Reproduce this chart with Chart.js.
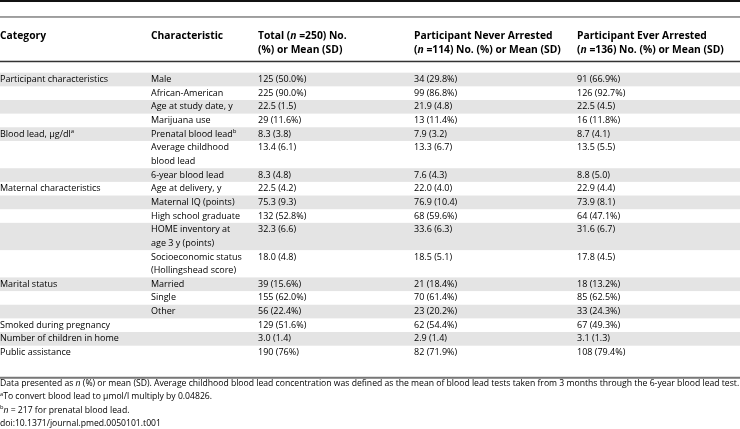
<!DOCTYPE html>
<html lang="en">
<head>
  <meta charset="UTF-8">
  <title>Table 1</title>
  <script src="https://cdn.jsdelivr.net/npm/chart.js"></script>
  <style>
    html, body { margin: 0; padding: 0; background: #fff; }
    #wrap { width: 740px; height: 429px; position: relative; }
  </style>
</head>
<body>
<div id="wrap"><canvas id="chart"></canvas></div>
<script>
// Table data: one entry per body row. "^x" = superscript, "_n_" = italic
const categories = ['Participant characteristics', '', '', '', 'Blood lead, \u00b5g/dl^a', '', '',
  'Maternal characteristics', '', '', '', '', 'Marital status', '', '',
  'Smoked during pregnancy', 'Number of children in home', 'Public assistance'];
const characteristics = ['Male', 'African-American', 'Age at study date, y', 'Marijuana use',
  'Prenatal blood lead^b', 'Average childhood\nblood lead', '6-year blood lead', 'Age at delivery, y',
  'Maternal IQ (points)', 'High school graduate', 'HOME inventory at\nage 3 y (points)',
  'Socioeconomic status\n(Hollingshead score)', 'Married', 'Single', 'Other', '', '', ''];
const totalValues = ['125 (50.0%)', '225 (90.0%)', '22.5 (1.5)', '29 (11.6%)', '8.3 (3.8)', '13.4 (6.1)',
  '8.3 (4.8)', '22.5 (4.2)', '75.3 (9.3)', '132 (52.8%)', '32.3 (6.6)', '18.0 (4.8)', '39 (15.6%)',
  '155 (62.0%)', '56 (22.4%)', '129 (51.6%)', '3.0 (1.4)', '190 (76%)'];
const neverValues = ['34 (29.8%)', '99 (86.8%)', '21.9 (4.8)', '13 (11.4%)', '7.9 (3.2)', '13.3 (6.7)',
  '7.6 (4.3)', '22.0 (4.0)', '76.9 (10.4)', '68 (59.6%)', '33.6 (6.3)', '18.5 (5.1)', '21 (18.4%)',
  '70 (61.4%)', '23 (20.2%)', '62 (54.4%)', '2.9 (1.4)', '82 (71.9%)'];
const everValues = ['91 (66.9%)', '126 (92.7%)', '22.5 (4.5)', '16 (11.8%)', '8.7 (4.1)', '13.5 (5.5)',
  '8.8 (5.0)', '22.9 (4.4)', '73.9 (8.1)', '64 (47.1%)', '31.6 (6.7)', '17.8 (4.5)', '18 (13.2%)',
  '85 (62.5%)', '33 (24.3%)', '67 (49.3%)', '3.1 (1.3)', '108 (79.4%)'];
const headers = ['Category', 'Characteristic', 'Total (_n_ =250) No.\n(%) or Mean (SD)',
  'Participant Never Arrested\n(_n_ =114) No. (%) or Mean (SD)',
  'Participant Ever Arrested\n(_n_ =136) No. (%) or Mean (SD)'];
const footnotes = [
  'Data presented as _n_ (%) or mean (SD). Average childhood blood lead concentration was defined as the mean of blood lead tests taken from 3 months through the 6-year blood lead test.',
  '^aTo convert blood lead to \u00b5mol/l multiply by 0.04826.',
  '^b_n_ = 217 for prenatal blood lead.',
  'doi:10.1371/journal.pmed.0050101.t001'
];

// layout (x in px, y in text-line units)
const colX = [0, 151, 258, 414, 577];
const headerLine = -3.15;
const footLine = 22.3;
const FONT = '"Open Sans", sans-serif';

function drawRich(ctx, text, x, y, bold, size) {
  const w = bold ? 'bold ' : '';
  let cx = x;
  const parts = text.split(/(_[^_]+_|\^.)/).filter(s => s.length);
  parts.forEach(p => {
    if (p[0] === '_' && p.length > 2) {
      ctx.font = 'italic ' + w + size + 'px ' + FONT;
      p = p.slice(1, -1);
      ctx.fillText(p, cx, y);
    } else if (p[0] === '^') {
      ctx.font = w + (size - 3) + 'px ' + FONT;
      p = p.slice(1);
      ctx.fillText(p, cx, y - 3);
    } else {
      ctx.font = w + size + 'px ' + FONT;
      ctx.fillText(p, cx, y);
    }
    cx += ctx.measureText(p).width;
  });
}

const tablePlugin = {
  id: 'table',
  beforeDatasetsDraw(chart) {
    const ctx = chart.ctx, xs = chart.scales.x, ys = chart.scales.y;
    ctx.save();
    // row bands
    let line = 0;
    characteristics.forEach((c, i) => {
      const n = Math.max(c.split('\n').length, 1);
      if (i % 2 === 0) {
        const top = ys.getPixelForValue(line - 0.5);
        const bot = ys.getPixelForValue(line + n - 0.5);
        ctx.fillStyle = '#e4e4e4';
        ctx.fillRect(xs.getPixelForValue(0), top, xs.getPixelForValue(740), bot - top);
      }
      line += n;
    });
    // rules
    const rule = (v, wdt, col) => {
      ctx.fillStyle = col;
      const p = ys.getPixelForValue(v);
      ctx.fillRect(0, p - wdt / 2, chart.width, wdt);
    };
    rule(-5.75, 2, '#111');
    rule(-4.58, 1, '#444');
    rule(-1.32, 1.5, '#333');
    rule(line + 0.85, 2, '#777');
    ctx.restore();
  },
  afterDatasetsDraw(chart) {
    const ctx = chart.ctx, xs = chart.scales.x, ys = chart.scales.y;
    ctx.save();
    ctx.fillStyle = '#000';
    ctx.textBaseline = 'middle';
    headers.forEach((h, c) => {
      h.split('\n').forEach((t, k) => drawRich(ctx, t, xs.getPixelForValue(colX[c]), ys.getPixelForValue(headerLine + k * 1.03), true, 10.3));
    });
    let line = 0;
    characteristics.forEach((c, i) => {
      const cells = [categories[i], c, totalValues[i], neverValues[i], everValues[i]];
      cells.forEach((t, col) => {
        t.split('\n').forEach((s, k) => drawRich(ctx, s, xs.getPixelForValue(colX[col]), ys.getPixelForValue(line + k), false, 9));
      });
      line += Math.max(c.split('\n').length, 1);
    });
    footnotes.forEach((f, k) => drawRich(ctx, f, xs.getPixelForValue(0), ys.getPixelForValue(footLine + k * 0.96), false, 8.65));
    ctx.restore();
  }
};

new Chart(document.getElementById('chart'), {
  type: 'scatter',
  data: { datasets: [{ data: [], pointRadius: 0 }] },
  options: {
    responsive: true,
    maintainAspectRatio: false,
    animation: false,
    layout: { padding: 0 },
    plugins: { legend: { display: false }, tooltip: { enabled: false } },
    scales: {
      x: { type: 'linear', display: false, min: 0, max: 740 },
      y: { type: 'linear', display: false, reverse: true, min: -5.824, max: 25.604 }
    }
  },
  plugins: [tablePlugin]
});
</script>
</body>
</html>
